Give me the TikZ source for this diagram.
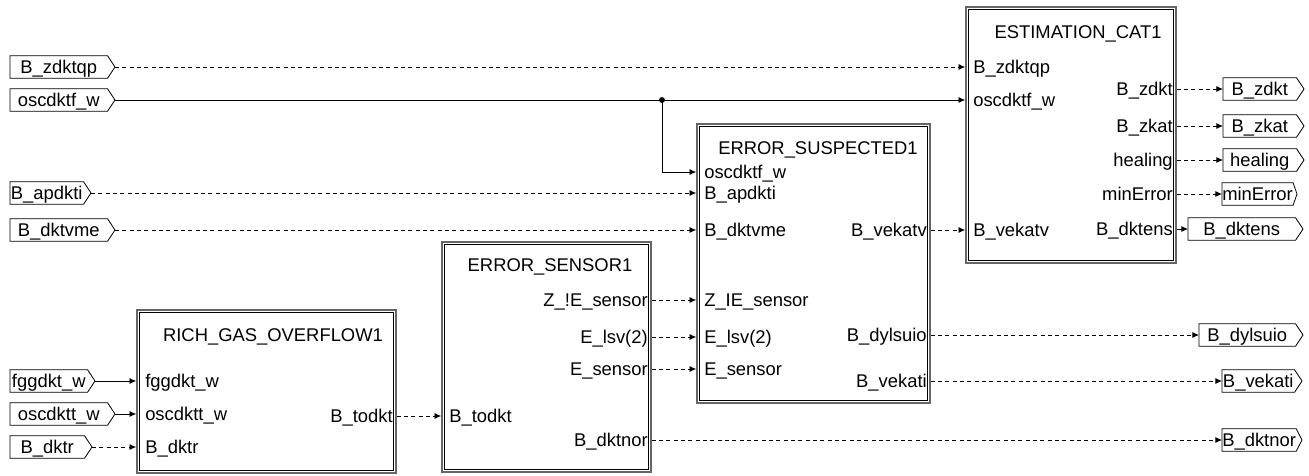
\documentclass[tikz,border=0pt]{standalone}
\usepackage{fontspec}
\setmainfont{Liberation Sans}
\usetikzlibrary{arrows.meta,fit}
\tikzset{
  lbl/.style={inner sep=0pt, font=\fontsize{13.8}{16}\selectfont, text height=12pt, text depth=2.6pt},
  flagbody/.style={lbl, minimum height=16.5pt},
  flagline/.style={draw=black, line width=0.6pt},
  blkouter/.style={draw=black!60, line width=1.2pt, inner sep=0pt},
  blkinner/.style={draw=black, line width=0.6pt},
  sol/.style={line width=0.6pt, -{Latex[length=5pt,width=4.5pt]}},
  dsh/.style={sol, dash pattern=on 3pt off 2.5pt},
}
\newcommand\flag[5]{% name, left, tip, y, text
  \node[flagbody, minimum width={(#3-8-#2)*0.75pt}, anchor=west] (#1) at (#2,#4) {#5};
  \draw[flagline] (#1.north west) -- (#1.north east) -- (#3,#4) -- (#1.south east) -- (#1.south west) -- cycle;
  \coordinate (#1-tip) at (#3,#4);
}
\newcommand\blk[8]{% name, x1, y1, x2, y2, title, tx, ty
  \node[blkouter, fit={(#2,#3) (#4,#5)}] (#1) {};
  \draw[blkinner] ([shift={(2.25pt,-2.25pt)}]#1.north west) rectangle ([shift={(-2.25pt,2.25pt)}]#1.south east);
  \node[lbl] (#1-title) at (#7,#8) {#6};
}
\newcommand\inport[4]{\node[lbl, anchor=west] (#1) at (#2,#3) {#4};}
\newcommand\outport[4]{\node[lbl, anchor=east] (#1) at (#2,#3) {#4};}
\begin{document}
\begin{tikzpicture}[x=0.75pt,y=-0.75pt]
\useasboundingbox (0,0) rectangle (1309,475);
% input flags
\flag{fzq}{10}{115}{67}{B\_zdktqp}
\flag{fof}{10}{115}{100}{oscdktf\_w}
\flag{fap}{10}{91}{193}{B\_apdkti}
\flag{fdv}{10}{115}{230}{B\_dktvme}
\flag{ffg}{10}{95}{381}{fggdkt\_w}
\flag{fot}{10}{115}{414}{oscdktt\_w}
\flag{fdr}{10}{92}{447}{B\_dktr}
% output flags
\flag{ozd}{1223}{1304}{89}{B\_zdkt}
\flag{ozk}{1223}{1304}{126}{B\_zkat}
\flag{ohe}{1223}{1304}{160}{healing}
\flag{omi}{1222}{1297}{194}{minError}
\flag{odt}{1188}{1303}{229}{B\_dktens}
\flag{ody}{1199}{1303}{335}{B\_dylsuio}
\flag{ove}{1222}{1302}{381}{B\_vekati}
\flag{odn}{1222}{1302}{440}{B\_dktnor}
% blocks
\blk{rgo}{137}{310}{396}{473}{RICH\_GAS\_OVERFLOW1}{273}{335}
\blk{es}{442}{242}{651}{472}{ERROR\_SENSOR1}{550}{265}
\blk{esu}{697}{124}{930}{403}{ERROR\_SUSPECTED1}{818}{148}
\blk{ec}{966}{7}{1176}{263}{ESTIMATION\_CAT1}{1078}{32}
% ports RGO
\inport{rgo-fg}{145}{381}{fggdkt\_w}
\inport{rgo-ot}{145}{414}{oscdktt\_w}
\inport{rgo-dr}{145}{447}{B\_dktr}
\outport{rgo-td}{393}{416}{B\_todkt}
% ports ES
\inport{es-td}{449}{416}{B\_todkt}
\outport{es-ze}{648}{300}{Z\_!E\_sensor}
\outport{es-el}{648}{337}{E\_lsv(2)}
\outport{es-es}{648}{369}{E\_sensor}
\outport{es-dn}{648}{440}{B\_dktnor}
% ports ESU
\inport{esu-of}{704}{172}{oscdktf\_w}
\inport{esu-ap}{704}{193}{B\_apdkti}
\inport{esu-dv}{704}{230}{B\_dktvme}
\inport{esu-ze}{704}{300}{Z\_IE\_sensor}
\inport{esu-el}{704}{337}{E\_lsv(2)}
\inport{esu-es}{704}{369}{E\_sensor}
\outport{esu-vv}{927}{230}{B\_vekatv}
\outport{esu-dy}{927}{335}{B\_dylsuio}
\outport{esu-vi}{927}{381}{B\_vekati}
% ports EC
\inport{ec-zq}{973}{67}{B\_zdktqp}
\inport{ec-of}{973}{100}{oscdktf\_w}
\inport{ec-vv}{973}{230}{B\_vekatv}
\outport{ec-zd}{1173}{89}{B\_zdkt}
\outport{ec-zk}{1173}{126}{B\_zkat}
\outport{ec-he}{1173}{160}{healing}
\outport{ec-mi}{1173}{194}{minError}
\outport{ec-dt}{1173}{229}{B\_dktens}
% connectors
\coordinate (J) at (662,100);
\draw[dsh] (fzq-tip) -- (ec-zq.west -| ec.west);
\draw[sol] (fof-tip) -- (ec-of.west -| ec.west);
\fill (J) circle (2.2pt);
\draw[sol] (J) |- (esu-of.west -| esu.west);
\draw[dsh] (fap-tip) -- (esu-ap.west -| esu.west);
\draw[dsh] (fdv-tip) -- (esu-dv.west -| esu.west);
\draw[sol] (ffg-tip) -- (rgo-fg.west -| rgo.west);
\draw[sol] (fot-tip) -- (rgo-ot.west -| rgo.west);
\draw[dsh] (fdr-tip) -- (rgo-dr.west -| rgo.west);
\draw[dsh] (rgo-td.east -| rgo.east) -- (es-td.west -| es.west);
\draw[dsh] (es-ze.east -| es.east) -- (esu-ze.west -| esu.west);
\draw[dsh] (es-el.east -| es.east) -- (esu-el.west -| esu.west);
\draw[dsh] (es-es.east -| es.east) -- (esu-es.west -| esu.west);
\draw[dsh] (es-dn.east -| es.east) -- (odn.west);
\draw[dsh] (esu-vv.east -| esu.east) -- (ec-vv.west -| ec.west);
\draw[dsh] (esu-dy.east -| esu.east) -- (ody.west);
\draw[dsh] (esu-vi.east -| esu.east) -- (ove.west);
\draw[dsh] (ec-zd.east -| ec.east) -- (ozd.west);
\draw[dsh] (ec-zk.east -| ec.east) -- (ozk.west);
\draw[dsh] (ec-he.east -| ec.east) -- (ohe.west);
\draw[dsh] (ec-mi.east -| ec.east) -- (omi.west);
\draw[sol] (ec-dt.east -| ec.east) -- (odt.west);
\end{tikzpicture}
\end{document}
